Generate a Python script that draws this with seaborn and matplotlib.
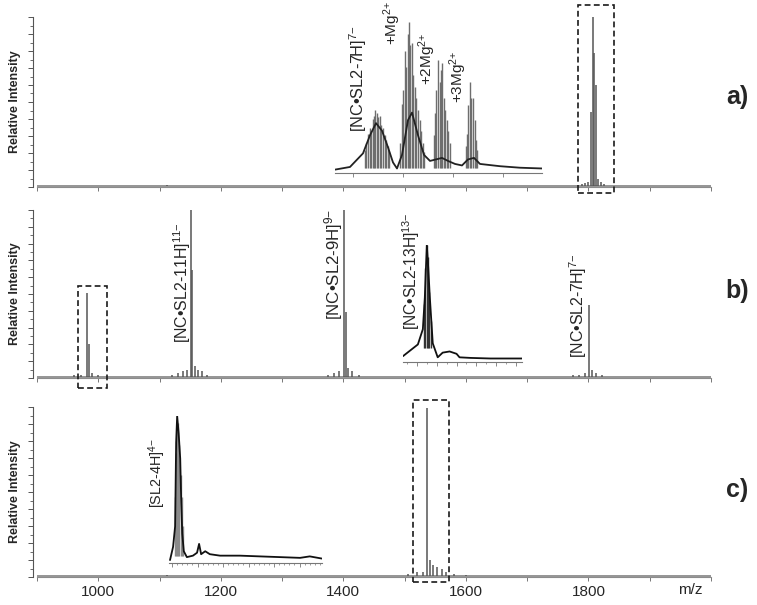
import numpy as np
import pandas as pd
import matplotlib.pyplot as plt
import seaborn as sns
from matplotlib.patches import Rectangle
from matplotlib.ticker import MultipleLocator, NullFormatter

sns.set_style("white")
plt.rcParams['font.family'] = ['Liberation Sans', 'DejaVu Sans']
plt.rcParams['mathtext.fontset'] = 'custom'
plt.rcParams['mathtext.rm'] = 'Liberation Sans'
plt.rcParams['mathtext.it'] = 'Liberation Sans:italic'
plt.rcParams['mathtext.bf'] = 'Liberation Sans:bold'

# --- main spectra (m/z, relative intensity) ---
base_mz = [900, 2000]
base_h = [0.006, 0.006]

a_peak_mz = [1112, 1790, 1795, 1800, 1804, 1807, 1809.5, 1812.5, 1816, 1820, 1826]
a_peak_h = [0.012, 0.02, 0.025, 0.03, 0.44, 1.0, 0.79, 0.6, 0.05, 0.03, 0.02]

b_peak_mz = [960, 972, 981.5, 984.5, 990, 1000, 1120, 1130, 1138, 1145, 1151, 1153, 1158, 1163,
             1170, 1178, 1375, 1385, 1393, 1401.7, 1404, 1408, 1414, 1425, 1775, 1785, 1795,
             1801.7, 1806, 1812, 1822]
b_peak_h = [0.015, 0.02, 0.506, 0.20, 0.03, 0.02, 0.02, 0.03, 0.04, 0.05, 1.0, 0.64, 0.07, 0.05,
            0.04, 0.02, 0.02, 0.03, 0.04, 1.0, 0.39, 0.06, 0.04, 0.02, 0.02, 0.02, 0.03,
            0.435, 0.05, 0.03, 0.02]

c_peak_mz = [1112, 1505, 1520, 1530, 1536, 1541.6, 1547, 1553.5, 1560.7, 1568, 1580, 1600]
c_peak_h = [0.012, 0.02, 0.03, 0.03, 0.996, 0.10, 0.07, 0.06, 0.05, 0.03, 0.015, 0.01]

boxes = {
    'a': (1783, 1842, -0.035, 1.07),
    'b': (967, 1014, -0.06, 0.548),
    'c': (1513, 1573, -0.03, 1.04),
}

tick_values = [1000, 1200, 1400, 1600, 1800]

# --- inset a: [NC.SL2-7H]7- and Mg adducts ---
ia_env_mz = [1803.0, 1804.7, 1806.0, 1806.7, 1807.3, 1807.9, 1808.5, 1809.0, 1809.4, 1809.9,
             1810.5, 1810.9, 1811.5, 1812.1, 1812.7, 1813.3, 1813.9, 1814.5, 1815.2, 1815.9,
             1816.5, 1817.1, 1817.7, 1819.7, 1821.7, 1823.9]
ia_env_h = [0.02, 0.04, 0.13, 0.25, 0.33, 0.28, 0.17, 0.07, 0.03, 0.12,
            0.35, 0.40, 0.25, 0.12, 0.08, 0.09, 0.10, 0.08, 0.06, 0.05,
            0.09, 0.10, 0.06, 0.045, 0.035, 0.03]
ia_spike_mz = [1806.2, 1806.35, 1806.5, 1806.65, 1806.8, 1806.95, 1807.1, 1807.25, 1807.4,
               1807.55, 1807.7, 1807.85, 1808.0, 1808.15, 1808.3, 1808.45, 1808.6,
               1809.75, 1809.9, 1810.05, 1810.2, 1810.35, 1810.5, 1810.6, 1810.75, 1810.9,
               1811.05, 1811.2, 1811.35, 1811.5, 1811.65, 1811.8, 1811.95, 1812.1,
               1813.1, 1813.2, 1813.35, 1813.5, 1813.65, 1813.8, 1813.95, 1814.1, 1814.25,
               1814.4, 1814.55, 1814.7,
               1816.3, 1816.4, 1816.55, 1816.7, 1816.85, 1817.0, 1817.15, 1817.3, 1817.45]
ia_spike_h = [0.15, 0.20, 0.26, 0.30, 0.28, 0.36, 0.38, 0.42, 0.40,
              0.37, 0.38, 0.32, 0.30, 0.25, 0.22, 0.18, 0.14,
              0.20, 0.46, 0.55, 0.81, 0.70, 0.92, 1.0, 0.85, 0.86,
              0.65, 0.57, 0.50, 0.42, 0.35, 0.28, 0.20, 0.14,
              0.25, 0.40, 0.55, 0.75, 0.60, 0.68, 0.73, 0.50, 0.42,
              0.35, 0.28, 0.20,
              0.18, 0.26, 0.45, 0.60, 0.50, 0.50, 0.35, 0.22, 0.15]

# --- inset b: [NC.SL2-13H]13- ---
ib_env_mz = [978.6, 980.1, 980.6, 980.8, 981.0, 981.15, 981.3, 981.6, 982.1, 982.6,
             983.3, 984.0, 984.3, 985.4, 987.4, 990.6]
ib_env_h = [0.05, 0.15, 0.28, 0.55, 1.0, 0.80, 0.56, 0.16, 0.04, 0.08,
            0.09, 0.07, 0.04, 0.035, 0.03, 0.03]
ib_spike_mz = [980.7, 980.85, 981.0, 981.1, 981.25, 981.4]
ib_spike_h = [0.50, 0.80, 1.0, 0.90, 0.60, 0.35]

# --- inset c: [SL2-4H]4- ---
ic_env_mz = [1534.6, 1535.2, 1535.6, 1535.8, 1536.0, 1536.3, 1536.6, 1536.8, 1537.0, 1537.3,
             1537.9, 1539.1, 1539.9, 1540.3, 1540.7, 1541.5, 1542.4, 1544.4, 1548.3, 1552.2,
             1556.2, 1560.1, 1562.0, 1564.4]
ic_env_h = [0.02, 0.11, 0.25, 0.82, 1.0, 0.88, 0.71, 0.41, 0.20, 0.08,
            0.04, 0.05, 0.07, 0.13, 0.06, 0.08, 0.06, 0.05, 0.05, 0.045,
            0.04, 0.035, 0.045, 0.03]
ic_spike_mz = [1535.5, 1535.7, 1535.9, 1536.15, 1536.45, 1536.7, 1536.9, 1537.1]
ic_spike_h = [0.45, 0.75, 0.90, 0.95, 0.80, 0.60, 0.45, 0.25]

fig = plt.figure(figsize=(7.57, 6.05), dpi=100)
W, H = 757, 605


def px_rect(x0, x1, y_top, y_base):
    return [x0 / W, (H - y_base) / H, (x1 - x0) / W, (y_base - y_top) / H]


def draw_main(rect, peak_mz, peak_h, box, show_labels):
    ax = fig.add_axes(rect)
    ax.set_facecolor('none')
    sns.lineplot(x=base_mz, y=base_h, ax=ax, color='#8c8c8c', linewidth=1.3, estimator=None)
    ax.vlines(peak_mz, 0.005, peak_h, color='#555555', linewidth=1.1)
    ax.set_xlim(900, 2000)
    ax.set_ylim(0, 1.0)
    for s in ['top', 'right']:
        ax.spines[s].set_visible(False)
    ax.spines['left'].set_position(('outward', 3))
    ax.spines['left'].set_color('#555555')
    ax.spines['left'].set_linewidth(0.8)
    ax.spines['bottom'].set_color('#8c8c8c')
    ax.spines['bottom'].set_linewidth(0.8)
    ax.yaxis.set_major_locator(MultipleLocator(0.1))
    ax.yaxis.set_minor_locator(MultipleLocator(0.05))
    ax.yaxis.set_major_formatter(NullFormatter())
    ax.tick_params(axis='y', which='major', direction='out', length=3.5, width=0.7,
                   color='#555555', left=True)
    ax.tick_params(axis='y', which='minor', direction='out', length=2, width=0.6,
                   color='#555555', left=True)
    ax.set_xticks(tick_values)
    ax.xaxis.set_minor_locator(MultipleLocator(100))
    ax.tick_params(axis='x', which='both', direction='out', length=3, width=0.7,
                   color='#777777', bottom=True, labelsize=11, pad=3)
    if not show_labels:
        ax.set_xticklabels([])
    ax.set_xlabel('')
    ax.set_ylabel('Relative Intensity', fontsize=9, fontweight='bold')
    ax.yaxis.set_label_coords(-0.024, 0.5)
    x0, x1, y0, y1 = box
    ax.add_patch(Rectangle((x0, y0), x1 - x0, y1 - y0, fill=False, ec='#1a1a1a',
                           lw=1.2, ls=(0, (3.5, 2)), clip_on=False, zorder=5))
    return ax


def draw_inset(rect, xlim, env_mz, env_h, spike_mz, spike_h, spike_base, env_col, spike_col,
               major, minor):
    ax = fig.add_axes(rect)
    ax.set_facecolor('none')
    ax.vlines(spike_mz, spike_base, spike_h, color=spike_col, linewidth=1.0)
    sns.lineplot(x=env_mz, y=env_h, ax=ax, color=env_col, linewidth=1.3, estimator=None,
                 sort=False)
    ax.set_xlim(*xlim)
    ax.set_ylim(0, 1.0)
    for s in ['top', 'right', 'left']:
        ax.spines[s].set_visible(False)
    ax.spines['bottom'].set_color('#777777')
    ax.spines['bottom'].set_linewidth(0.8)
    ax.set_yticks([])
    ax.xaxis.set_major_locator(MultipleLocator(major))
    ax.xaxis.set_minor_locator(MultipleLocator(minor))
    ax.xaxis.set_major_formatter(NullFormatter())
    ax.tick_params(axis='x', which='major', direction='out', length=3, width=0.6,
                   color='#777777', bottom=True)
    ax.tick_params(axis='x', which='minor', direction='out', length=1.5, width=0.5,
                   color='#777777', bottom=True)
    ax.set_xlabel('')
    ax.set_ylabel('')
    return ax


ax_a = draw_main(px_rect(37, 711, 17, 187), a_peak_mz, a_peak_h, boxes['a'], False)
ax_b = draw_main(px_rect(37, 711, 210, 378), b_peak_mz, b_peak_h, boxes['b'], False)
ax_c = draw_main(px_rect(37, 711, 407, 577), c_peak_mz, c_peak_h, boxes['c'], True)
ax_c.text(0.969, -0.076, 'm/z', transform=ax_c.transAxes, ha='center', va='center', fontsize=11)

draw_inset(px_rect(335, 542, 22, 173), (1803.2, 1823.9), ia_env_mz, ia_env_h,
           ia_spike_mz, ia_spike_h, 0.03, '#222222', '#6e6e6e', 5, 5)
draw_inset(px_rect(403, 522, 245, 362), (978.6, 990.6), ib_env_mz, ib_env_h,
           ib_spike_mz, ib_spike_h, 0.12, '#111111', '#333333', 2, 1)
draw_inset(px_rect(169, 322, 416, 563), (1534.4, 1564.4), ic_env_mz, ic_env_h,
           ic_spike_mz, ic_spike_h, 0.05, '#111111', '#8a8a8a', 5, 1)

label_kw = dict(rotation=90, ha='center', va='bottom', clip_on=False)
ax_a.text(1424, 0.324, r'[NC•SL2-7H]$^{7{-}}$', fontsize=11.8, **label_kw)
ax_a.text(1479.6, 0.835, r'+Mg$^{2{+}}$', fontsize=11, **label_kw)
ax_a.text(1536.7, 0.60, r'+2Mg$^{2{+}}$', fontsize=11, **label_kw)
ax_a.text(1587.3, 0.494, r'+3Mg$^{2{+}}$', fontsize=11, **label_kw)
ax_b.text(1136.7, 0.208, r'[NC•SL2-11H]$^{11{-}}$', fontsize=11.4, **label_kw)
ax_b.text(1383.3, 0.345, r'[NC•SL2-9H]$^{9{-}}$', fontsize=12.2, **label_kw)
ax_b.text(1510.6, 0.286, r'[NC•SL2-13H]$^{13{-}}$', fontsize=11.2, **label_kw)
ax_b.text(1783.3, 0.119, r'[NC•SL2-7H]$^{7{-}}$', fontsize=11.5, **label_kw)
ax_c.text(1095.9, 0.406, r'[SL2-4H]$^{4{-}}$', fontsize=10.4, **label_kw)

for lab, yp in [('a)', 97), ('b)', 291), ('c)', 490)]:
    fig.text(737 / W, 1 - yp / H, lab, ha='center', va='center', fontsize=18, fontweight='bold')

fig.savefig('out.png', dpi=100)
